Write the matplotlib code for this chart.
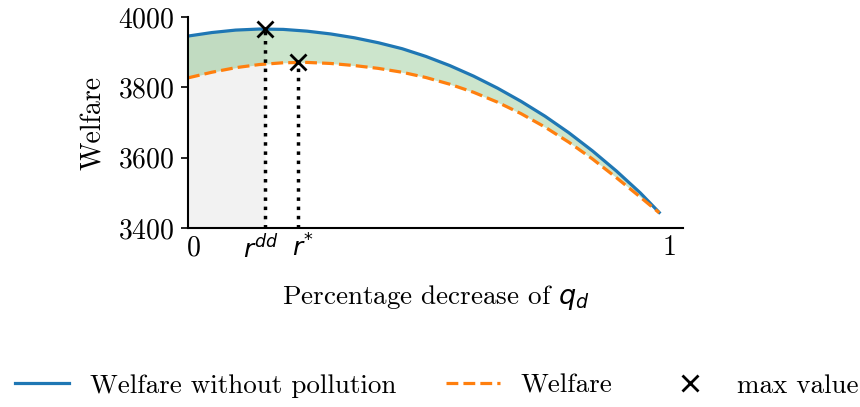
import numpy as np
import matplotlib
matplotlib.use("Agg")
import matplotlib.pyplot as plt
import matplotlib.transforms as mtransforms

plt.rcParams['font.family'] = ['cmr10', 'DejaVu Serif']
plt.rcParams['mathtext.fontset'] = 'dejavusans'
plt.rcParams['axes.formatter.use_mathtext'] = True

# Data
x = [0.00, 0.05, 0.10, 0.15, 0.20, 0.25, 0.30, 0.35, 0.40, 0.45, 0.50,
     0.55, 0.60, 0.65, 0.70, 0.75, 0.80, 0.85, 0.90, 0.95, 0.99]
welfare_no_pollution = [3946, 3956, 3963, 3966, 3965, 3960, 3952, 3941, 3927, 3910, 3888,
                        3862, 3832, 3798, 3760, 3718, 3671, 3619, 3562, 3500, 3444]
welfare = [3827, 3843, 3856, 3865, 3870, 3871, 3868, 3862, 3854, 3843, 3828,
           3809, 3786, 3758, 3725, 3687, 3644, 3596, 3543, 3488, 3443]
r_dd, max_no_pollution = 0.162, 3966
r_star, max_welfare = 0.231, 3872
yticks = [3400, 3600, 3800, 4000]
xtick_pos = [0, r_dd, r_star, 1]
xtick_labels = ['0', r'$r^{dd}$', r'$r^{*}$', '1']

xa = np.array(x)
yb = np.array(welfare_no_pollution)
yo = np.array(welfare)

fig = plt.figure(figsize=(8.6, 4.07), dpi=100)
ax = fig.add_axes([0.2186, 0.440, 0.5756, 0.518])

ymin = 3400
mask = xa <= r_dd + 1e-9
xg = np.append(xa[mask], r_dd)
ygb = np.interp(xg, xa, yb)
ax.fill_between(xg, ymin, ygb, color='gray', alpha=0.1, linewidth=0)
ax.fill_between(xa, yo, yb, color='green', alpha=0.2, linewidth=0)

ax.plot(xa, yb, color='#1f77b4', lw=2.3, label='Welfare without pollution')
ax.plot(xa, yo, color='#ff7f0e', lw=2.3, ls='--', label='Welfare')

ax.plot([r_dd, r_dd], [ymin, max_no_pollution], color='black', ls=':', lw=2.5)
ax.plot([r_star, r_star], [ymin, max_welfare], color='black', ls=':', lw=2.5)
ax.plot([r_dd, r_star], [max_no_pollution, max_welfare], ls='none', marker='x',
        color='black', ms=11, mew=2, label='max value')

ax.set_xlim(0, 1.04)
ax.set_ylim(3400, 4000)
ax.set_yticks(yticks)
ax.set_xticks(xtick_pos)
ax.set_xticklabels(xtick_labels)
ax.tick_params(axis='x', length=0, pad=5, labelsize=20)
ax.tick_params(axis='y', length=5, width=1.2, pad=4.5, labelsize=20)
shifts = {'0': 6, '1': 6, r'$r^{dd}$': -4, r'$r^{*}$': 5}
for lab in ax.get_xticklabels():
    txt = lab.get_text()
    if txt not in ('0', '1'):
        lab.set_fontsize(18)
    off = mtransforms.ScaledTranslation(shifts.get(txt, 0) / 100, 0, fig.dpi_scale_trans)
    lab.set_transform(lab.get_transform() + off)
for s in ['top', 'right']:
    ax.spines[s].set_visible(False)
for s in ['left', 'bottom']:
    ax.spines[s].set_linewidth(1.5)

ax.set_xlabel(r'Percentage decrease of $q_d$', fontsize=19.5, labelpad=14)
ax.set_ylabel('Welfare', fontsize=20, labelpad=8)

fig.legend(loc='lower center', bbox_to_anchor=(0.508, -0.037), ncol=3, frameon=False,
           fontsize=19.5, handlelength=2.0, handletextpad=0.75, columnspacing=1.85)

fig.savefig('out.png', dpi=100)
